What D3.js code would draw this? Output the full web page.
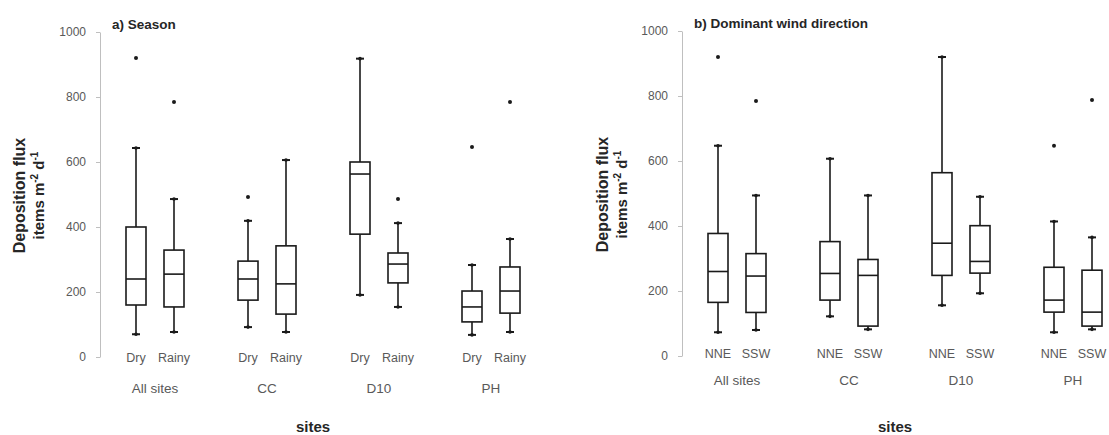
<!DOCTYPE html>
<html>
<head>
<meta charset="utf-8">
<script src="https://cdn.jsdelivr.net/npm/d3@7"></script>
<style>
  html, body { margin: 0; padding: 0; background: #fff; }
  svg { display: block; }
  text { font-family: "Liberation Sans", Arial, sans-serif; }
</style>
</head>
<body>
<svg id="chart" width="1109" height="435"></svg>
<script>
// ---- data ----
const sites = ["All sites", "CC", "D10", "PH"];
const yTicks = [0, 200, 400, 600, 800, 1000];

// Panel a) Season : [lower whisker, Q1, median, Q3, upper whisker]
const seasonCats = ["Dry", "Rainy"];
const seasonDry   = [[70,160,240,400,643],[92,175,240,295,419],[191,378,563,600,918],[68,108,154,203,283]];
const seasonRainy = [[77,154,255,329,486],[77,132,225,342,606],[154,228,286,320,412],[77,135,203,277,363]];
const seasonDryOut   = [[920],[492],[],[646]];
const seasonRainyOut = [[785],[],[486],[785]];

// Panel b) Dominant wind direction
const windCats = ["NNE", "SSW"];
const windNNE = [[73,165,260,377,647],[122,172,254,352,607],[156,248,347,564,920],[73,135,172,273,414]];
const windSSW = [[80,134,246,315,494],[82,92,248,297,494],[193,255,291,401,490],[82,92,135,264,365]];
const windNNEOut = [[920],[],[],[647]];
const windSSWOut = [[785],[],[],[788]];

const svg = d3.select("#chart");

function panel(opt) {
  const g = svg.append("g");
  const y = d3.scaleLinear().domain([0, 1000]).range([opt.y0, opt.y1]);
  const xBand = d3.scaleBand().domain(sites).range([opt.x0 - 1, opt.x0 + 447]).padding(0);
  const xSub = d3.scalePoint().domain(opt.cats).range([-19, 19]);
  const boxW = 20, capW = 8;

  // y axis
  const ax = g.append("g").attr("transform", `translate(${opt.x0},0)`)
    .call(d3.axisLeft(y).tickValues(yTicks).tickFormat(d3.format("d"))
      .tickSize(4).tickSizeOuter(0).tickPadding(10));
  ax.select(".domain").attr("stroke", "#bfbfbf");
  ax.selectAll(".tick line").attr("stroke", "#bfbfbf");
  ax.selectAll(".tick text").attr("fill", "#595959").attr("font-size", 12)
    .style("font-family", "'Liberation Sans', Arial, sans-serif");

  // y title
  const tcx = opt.titleX, tcy = (opt.y0 + opt.y1) / 2 + 1;
  const yt = g.append("text")
    .attr("transform", `translate(${tcx},${tcy}) rotate(-90)`)
    .attr("text-anchor", "middle").attr("font-weight", "bold").attr("font-size", 16)
    .attr("fill", "#262626");
  yt.append("tspan").attr("x", 0).attr("dy", 0).text("Deposition flux");
  const l2 = yt.append("tspan").attr("x", 0).attr("dy", 19).attr("font-size", 15);
  l2.append("tspan").text("items m");
  l2.append("tspan").attr("font-size", 10).attr("dy", -6).text("-2");
  l2.append("tspan").attr("dy", 6).text(" d");
  l2.append("tspan").attr("font-size", 10).attr("dy", -6).text("-1");

  // panel title
  g.append("text").attr("x", opt.x0 + 12).attr("y", opt.y1 - 3)
    .attr("font-weight", "bold").attr("font-size", 13.5).attr("fill", "#262626")
    .text(opt.title);

  // boxes
  opt.series.forEach((ser, si) => {
    const cat = opt.cats[si];
    ser.stats.forEach((s, gi) => {
      const cx = xBand(sites[gi]) + xBand.bandwidth() / 2 + xSub(cat);
      const bg = g.append("g");
      // whiskers
      bg.append("line").attr("x1", cx).attr("x2", cx).attr("y1", y(s[0])).attr("y2", y(s[1]))
        .attr("stroke", "#1a1a1a").attr("stroke-width", 1.6);
      bg.append("line").attr("x1", cx).attr("x2", cx).attr("y1", y(s[3])).attr("y2", y(s[4]))
        .attr("stroke", "#1a1a1a").attr("stroke-width", 1.6);
      [s[0], s[4]].forEach(v => {
        bg.append("line").attr("x1", cx - capW / 2).attr("x2", cx + capW / 2)
          .attr("y1", y(v)).attr("y2", y(v)).attr("stroke", "#1a1a1a").attr("stroke-width", 2);
        bg.append("circle").attr("cx", cx).attr("cy", y(v)).attr("r", 1.8).attr("fill", "#1a1a1a");
      });
      // box
      bg.append("rect").attr("x", cx - boxW / 2).attr("width", boxW)
        .attr("y", y(s[3])).attr("height", y(s[1]) - y(s[3]))
        .attr("fill", "#fff").attr("stroke", "#1a1a1a").attr("stroke-width", 1.6);
      bg.append("line").attr("x1", cx - boxW / 2).attr("x2", cx + boxW / 2)
        .attr("y1", y(s[2])).attr("y2", y(s[2])).attr("stroke", "#1a1a1a").attr("stroke-width", 1.6);
      // outliers
      ser.out[gi].forEach(v => {
        bg.append("circle").attr("cx", cx).attr("cy", y(v)).attr("r", 2).attr("fill", "#1a1a1a");
      });
      // category label
      g.append("text").attr("x", cx).attr("y", opt.catY).attr("text-anchor", "middle")
        .attr("font-size", 12.5).attr("fill", "#595959").text(cat);
    });
  });

  // site labels
  sites.forEach(sname => {
    g.append("text").attr("x", xBand(sname) + xBand.bandwidth() / 2).attr("y", opt.siteY)
      .attr("text-anchor", "middle").attr("font-size", 13.5).attr("fill", "#595959").text(sname);
  });

  // x title
  g.append("text").attr("x", opt.x0 + 213).attr("y", 432).attr("text-anchor", "middle")
    .attr("font-weight", "bold").attr("font-size", 15).attr("fill", "#262626").text("sites");
}

panel({
  x0: 100, y0: 357, y1: 32, titleX: 25, title: "a) Season",
  cats: seasonCats, catY: 362, siteY: 393,
  series: [{ stats: seasonDry, out: seasonDryOut }, { stats: seasonRainy, out: seasonRainyOut }]
});
panel({
  x0: 682, y0: 356, y1: 31, titleX: 608, title: "b) Dominant wind direction",
  cats: windCats, catY: 358, siteY: 385,
  series: [{ stats: windNNE, out: windNNEOut }, { stats: windSSW, out: windSSWOut }]
});
</script>
</body>
</html>
